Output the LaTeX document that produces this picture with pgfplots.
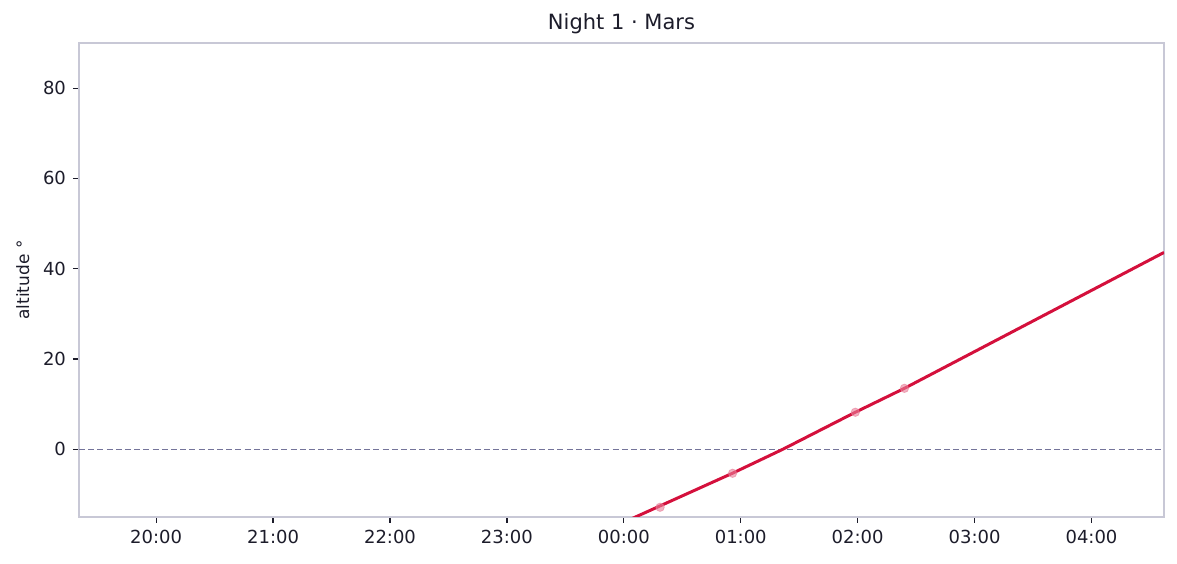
\documentclass[border=0pt]{standalone}
\usepackage{pgfplots}
\pgfplotsset{compat=1.18}
\usepackage{fontspec}
\setmainfont{DejaVu Sans}
\definecolor{framec}{HTML}{C8C8D6}
\definecolor{txtc}{HTML}{1C1C2A}
\definecolor{crimc}{HTML}{D4103C}
\definecolor{zeroc}{HTML}{74749A}
\definecolor{pinkc}{HTML}{E8809A}

\begin{document}
\begin{tikzpicture}
  \begin{axis}[
    scale only axis,
    width=542.5pt, height=237pt,
    xmin=19.34, xmax=28.62,
    ymin=-15, ymax=90,
    axis line style={framec, line width=0.7pt},
    tick style={txtc, line width=0.6pt},
    tick align=outside,
    major tick length=3pt,
    xtick={20,21,22,23,24,25,26,27,28},
    xticklabels={20:00,21:00,22:00,23:00,00:00,01:00,02:00,03:00,04:00},
    ytick={0,20,40,60,80},
    xtick pos=bottom, ytick pos=left,
    tick label style={font=\fontsize{9}{11}\selectfont, text=txtc},
    /pgf/number format/assume math mode=true,
    ylabel={altitude °},
    ylabel style={font=\fontsize{8.5}{10}\selectfont, text=txtc},
    title={Night 1 · Mars},
    title style={font=\fontsize{10.5}{12}\selectfont, text=txtc, yshift=-5pt},
    clip=true,
  ]
    \addplot[zeroc, line width=0.6pt, dash pattern=on 3pt off 1.6pt] coordinates {(19.34,0) (28.62,0)};
    \addplot[only marks, color=pinkc, mark=*, mark size=2.1pt, opacity=0.6] coordinates {
      (24.31,-12.85) (24.93,-5.32) (25.98,8.2) (26.40,13.5)
    };
    \addplot[crimc, line width=1.5pt] coordinates {
      (24.00,-16.2) (24.10,-15.0) (24.93,-5.3) (25.36,0.0) (25.98,8.2) (26.40,13.5) (28.62,43.6)
    };
  \end{axis}
  \pgfresetboundingbox
  \path (current axis.south west) ++(-39.5pt,-23.5pt) coordinate (bl);
  \path (current axis.north east) ++(6.5pt,21.5pt) coordinate (tr);
  \path (bl) rectangle (tr);
\end{tikzpicture}
\end{document}
